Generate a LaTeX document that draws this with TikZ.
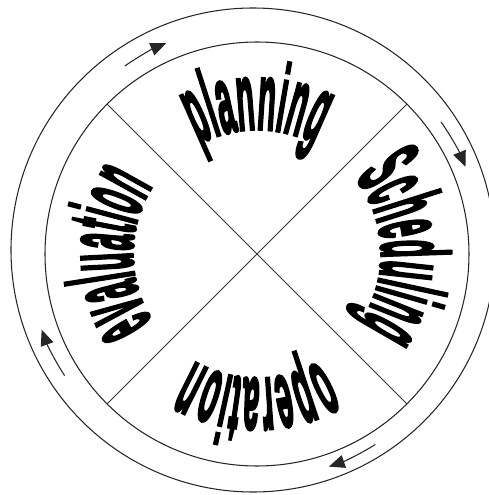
\documentclass[tikz,border=0pt]{standalone}
\usepackage{fontspec}
\usepackage{graphicx}
\usepackage{tikz}
\usetikzlibrary{arrows.meta, calc}

\newfontfamily\arcfamily{Liberation Sans Bold}[FakeBold=4]
\newcommand\wfont{\arcfamily\fontsize{15.4pt}{18pt}\selectfont}
\newdimen\letw
\newdimen\wordw
\newbox\letbox
\def\baser{125}
\def\letxs{1.08}
\def\letys{3.5}
% letter widths, taken before the picture
\AtBeginDocument{%
  \foreach \ch in {p,l,a,n,i,g,S,c,h,e,d,u,o,r,t,v}{%
    \setbox\letbox=\hbox{\wfont\ch}%
    \expandafter\xdef\csname lw-\ch\endcsname{\the\wd\letbox}%
  }%
}
% one word set letter by letter, clockwise round (hub)
\newcommand\arcword[3]{%
  \global\wordw=0pt
  \foreach \ch in {#2}{\global\advance\wordw by \csname lw-\ch\endcsname\relax}%
  \pgfmathsetmacro\halfang{0.5*\letxs*\wordw/0.569055/\baser*180/pi}%
  \pgfmathsetmacro\curang{#1+\halfang}%
  \global\let\curang\curang
  \foreach \ch [count=\k] in {#2}{%
    \global\letw=\csname lw-\ch\endcsname\relax
    \pgfmathsetmacro\stepang{\letxs*\letw/0.569055/\baser*180/pi}%
    \pgfmathsetmacro\midang{\curang-0.5*\stepang}%
    \node[letter, rotate=\midang-90] (#3-\k) at ($(hub)+(\midang:\baser)$) {\scalebox{\letxs}[\letys]{\ch}};
    \pgfmathsetmacro\nxtang{\curang-\stepang}%
    \global\let\curang\nxtang
  }%
}

\begin{document}
\begin{tikzpicture}[
    x=0.02cm, y=0.02cm,
    rim/.style={draw=black!85, line width=0.6pt},
    spoke/.style={draw=black!80, line width=0.5pt},
    cyclearrow/.style={-{Triangle[length=9pt, width=7.5pt]}, line width=0.6pt, draw=black!85},
    letter/.style={inner sep=0pt, anchor=base, font=\wfont}
]
\useasboundingbox (0,0) rectangle (489,495);
\clip (0,0) rectangle (489,495);

\coordinate (hub) at (257,241);
\coordinate (rimhub) at (253,245);
\coordinate (ring) at (255,243);

\draw[rim] (rimhub) circle[radius=242];
\draw[rim] (hub) circle[radius=212];

\draw[spoke] ($(hub)+(45:212)$) -- ($(hub)+(225:212)$);
\draw[spoke] ($(hub)+(135:212)$) -- ($(hub)+(315:212)$);

\draw[cyclearrow] ($(ring)+(125:227)$) arc[start angle=125, end angle=113, radius=227];
\draw[cyclearrow] ($(ring)+(35:227)$) arc[start angle=35, end angle=22, radius=227];
\draw[cyclearrow] ($(ring)+(-58:227)$) arc[start angle=-58, end angle=-71, radius=227];
\draw[cyclearrow] ($(ring)+(213:227)$) arc[start angle=213, end angle=200, radius=227];

\arcword{90}{p,l,a,n,n,i,n,g}{planning}
\arcword{2}{S,c,h,e,d,u,l,i,n,g}{Scheduling}
\arcword{-90}{o,p,e,r,a,t,i,o,n}{operation}
\arcword{180}{e,v,a,l,u,a,t,i,o,n}{evaluation}

\end{tikzpicture}
\end{document}
